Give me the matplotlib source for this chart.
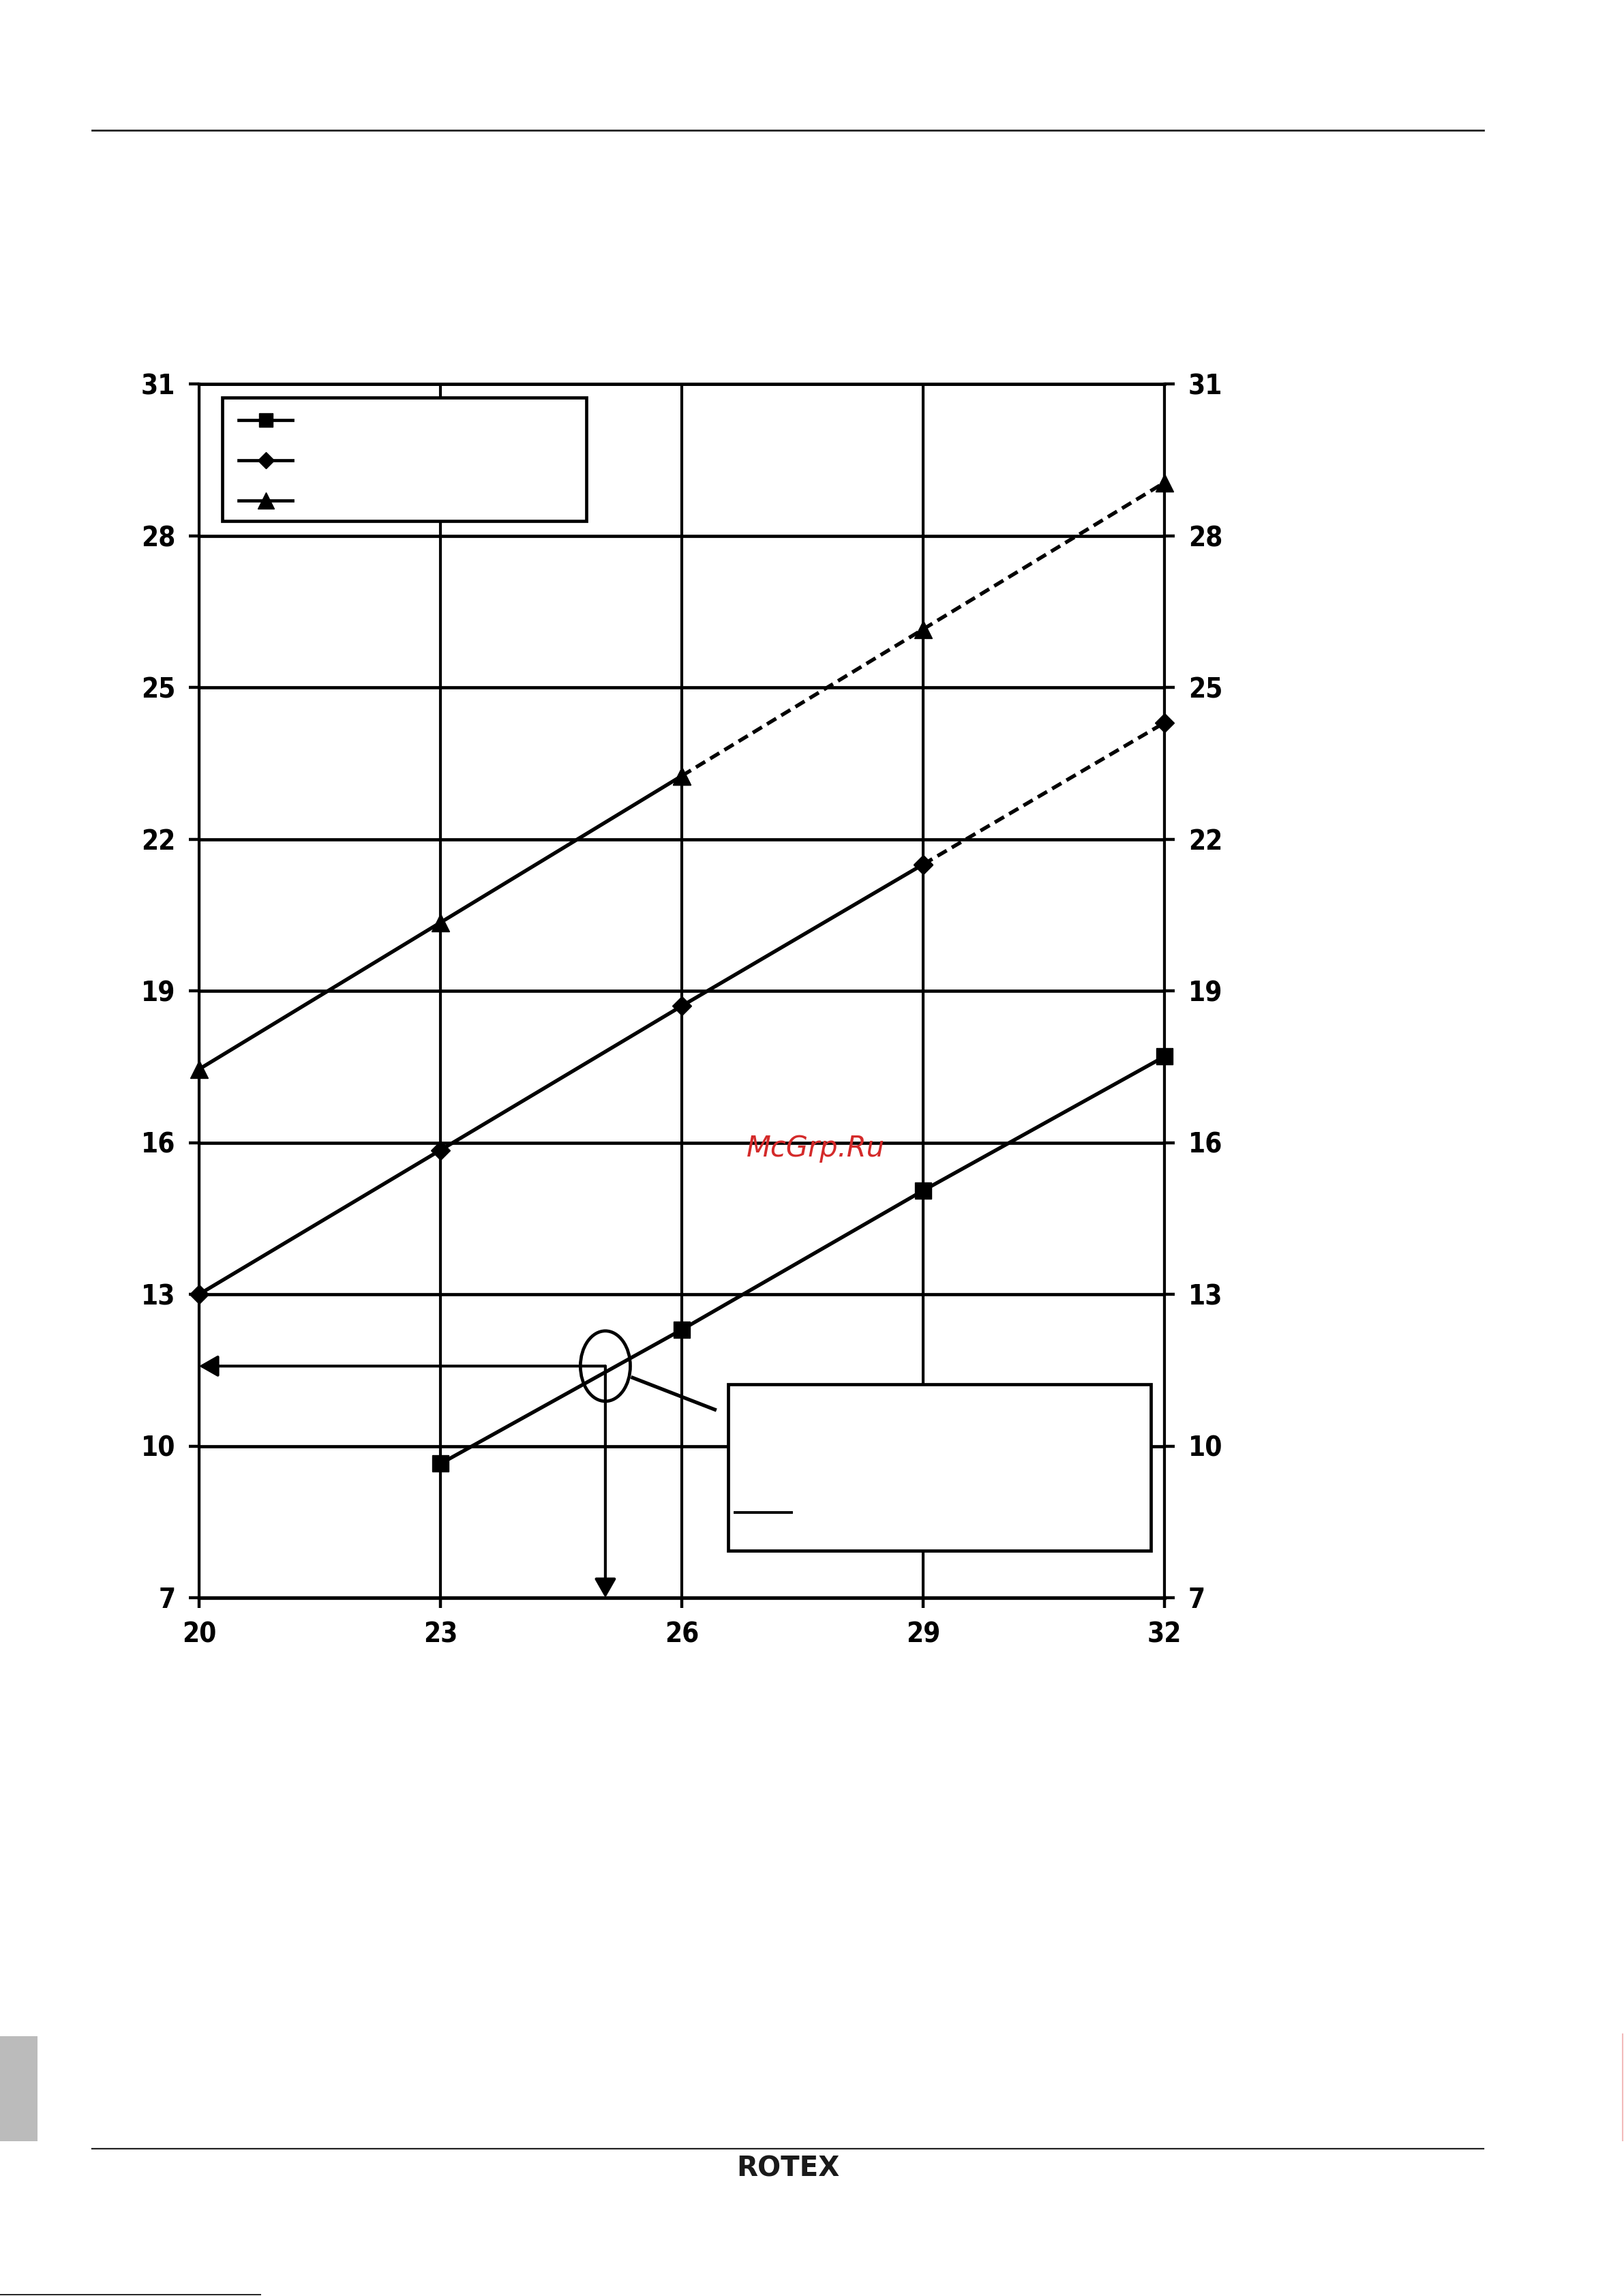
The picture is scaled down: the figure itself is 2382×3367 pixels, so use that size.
import numpy as np
import matplotlib
matplotlib.use("Agg")
import matplotlib.pyplot as plt
from matplotlib import font_manager as fm
from matplotlib.patches import Rectangle, Ellipse
from matplotlib.lines import Line2D

# Data
x = [20, 23, 26, 29, 32]
square_vals = [np.nan, 9.65, 12.3, 15.05, 17.7]
diamond_vals = [13.0, 15.85, 18.7, 21.5, 24.3]
triangle_vals = [17.45, 20.35, 23.25, 26.15, 29.05]
# index where the solid part ends and the dashed part starts
square_solid_end = 4
diamond_solid_end = 3
triangle_solid_end = 2

x_ticks = [20, 23, 26, 29, 32]
y_ticks = [7, 10, 13, 16, 19, 22, 25, 28, 31]

# reading example marked on the chart
read_x = 25.05
read_y = 11.58


def narrow_bold():
    # look for a condensed bold face, fall back to Liberation Sans bold
    for f in fm.fontManager.ttflist:
        if f.weight in ("bold", 700) and (f.stretch in ("condensed", "semi-condensed")
                                         or "Narrow" in f.name or "Condensed" in f.name):
            return fm.FontProperties(fname=f.fname, size=29)
    return fm.FontProperties(family=["Liberation Sans", "DejaVu Sans"], weight="bold", size=27)


tick_fp = narrow_bold()

W, H = 2382, 3367
fig = plt.figure(figsize=(W / 100, H / 100), dpi=100)
ax = fig.add_axes([292 / W, 1 - 2343 / H, (1708 - 292) / W, (2343 - 563) / H])

series = [
    (square_vals, "s", 17, square_solid_end),
    (diamond_vals, "D", 14, diamond_solid_end),
    (triangle_vals, "^", 19, triangle_solid_end),
]
for vals, mk, ms, k in series:
    ax.plot(x[:k + 1], vals[:k + 1], "-", color="black", lw=3.9,
            marker=mk, ms=ms, clip_on=False, zorder=5)
    if k < len(x) - 1:
        ax.plot(x[k:], vals[k:], color="black", lw=3.9, dashes=(2.9, 1.6),
                marker=mk, ms=ms, clip_on=False, zorder=5)

ax.set_xlim(20, 32)
ax.set_ylim(7, 31)
ax.set_xticks(x_ticks)
ax.set_yticks(y_ticks)
ax.tick_params(axis="both", direction="out", length=11, width=3.2, pad=14, colors="black")
ax.tick_params(axis="y", right=True, labelright=True)
ax.tick_params(axis="x", top=False)
for tk in ax.xaxis.get_major_ticks() + ax.yaxis.get_major_ticks():
    tk.label1.set_fontproperties(tick_fp)
    tk.label2.set_fontproperties(tick_fp)

ax.grid(axis="y", color="black", lw=3.4)
ax.grid(axis="x", color="black", lw=3.0)
ax.set_axisbelow(True)
for side, lw in [("top", 3.4), ("bottom", 3.8), ("left", 3.0), ("right", 3.0)]:
    ax.spines[side].set_linewidth(lw)

# legend box (labels left blank as in the reference)
ax.add_patch(Rectangle((0.024, 0.887), 0.377, 0.102, transform=ax.transAxes,
                       facecolor="white", edgecolor="black", lw=3.4, zorder=6))
for ly, mk, ms in [(0.970, "s", 15), (0.937, "D", 12), (0.904, "^", 17)]:
    ax.add_line(Line2D([0.041, 0.097], [ly, ly], transform=ax.transAxes,
                       color="black", lw=3.4, zorder=7))
    ax.add_line(Line2D([0.069], [ly], transform=ax.transAxes, marker=mk, ms=ms,
                       color="black", zorder=7))

# reading arrows
arrow = dict(arrowstyle="-|>,head_length=0.42,head_width=0.24", lw=3.0, color="black",
             mutation_scale=40, shrinkA=0, shrinkB=0)
ax.annotate("", xy=(20, read_y), xytext=(read_x, read_y), arrowprops=arrow, zorder=8)
ax.annotate("", xy=(read_x, 7), xytext=(read_x, read_y), arrowprops=arrow, zorder=8)
ax.add_patch(Ellipse((read_x, read_y), 0.62, 1.39, fill=False, edgecolor="black",
                     lw=3.4, zorder=8))
ax.plot([25.39, 26.41], [11.35, 10.72], color="black", lw=3.8, zorder=8)

# note box
ax.add_patch(Rectangle((0.548, 0.039), 0.438, 0.137, transform=ax.transAxes,
                       facecolor="white", edgecolor="black", lw=3.4, zorder=6))
ax.add_line(Line2D([0.555, 0.614], [0.070, 0.070], transform=ax.transAxes,
                   color="black", lw=2.8, zorder=7))

# page decoration
fig.add_artist(Line2D([135 / W, 2176 / W], [1 - 191 / H] * 2, color="#222222", lw=2))
fig.add_artist(Line2D([135 / W, 2176 / W], [1 - 3151 / H] * 2, color="#222222", lw=1.6))
fig.add_artist(Line2D([0, 382 / W], [1 - 3365 / H] * 2, color="#222222", lw=1.4))
fig.add_artist(Rectangle((0, 1 - 3140 / H), 55 / W, 154 / H, transform=fig.transFigure,
                         facecolor="#bbbbbb", edgecolor="none"))
fig.add_artist(Line2D([2380 / W] * 2, [1 - 2983 / H, 1 - 3139 / H], color="#f3baba", lw=1.5))
fig.text(1156 / W, 1 - 3181 / H, "ROTEX", ha="center", va="center",
         family=["DejaVu Sans"], weight="heavy", size=29, color="#1a1a1a")
fig.text(1196 / W, 1 - 1684 / H, "McGrp.Ru", ha="center", va="center",
         family="DejaVu Sans", style="italic", size=30, color="#d42a2a")

fig.savefig("out.png", dpi=100, facecolor="white")
